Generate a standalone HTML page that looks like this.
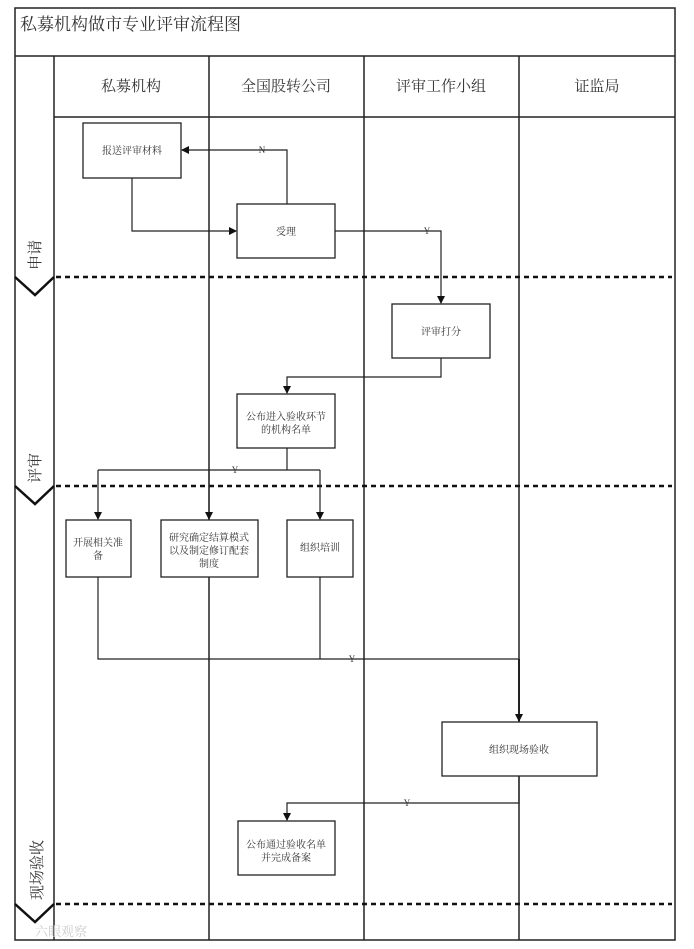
<!DOCTYPE html>
<html><head><meta charset="utf-8"><style>
body{margin:0;background:#fff;}
svg text{font-family:"Liberation Serif","Noto Serif CJK SC",serif;fill:#333;}
</style></head><body>
<svg width="694" height="944" viewBox="0 0 694 944" xmlns="http://www.w3.org/2000/svg">
<defs><marker id="a" markerWidth="8" markerHeight="8" refX="7" refY="4" orient="auto" markerUnits="userSpaceOnUse"><path d="M0,0 L8,4 L0,8 z" fill="#111"/></marker></defs>
<rect x="0" y="0" width="694" height="944" fill="#fff"/>
<g stroke="#222" stroke-width="1.5" fill="none">
<rect x="15" y="8" width="660" height="932"/>
<line x1="15" y1="56" x2="675" y2="56"/>
<line x1="54" y1="56" x2="54" y2="940"/>
<line x1="209" y1="56" x2="209" y2="940"/>
<line x1="364" y1="56" x2="364" y2="940"/>
<line x1="519" y1="56" x2="519" y2="940"/>
<line x1="54" y1="117" x2="675" y2="117"/>
</g>
<g stroke="#111" stroke-width="2.5" stroke-dasharray="5,4">
<line x1="56" y1="277" x2="672" y2="277"/>
<line x1="56" y1="486" x2="672" y2="486"/>
<line x1="56" y1="904" x2="672" y2="904"/>
</g>
<g stroke="#111" stroke-width="2.5" fill="none">
<polyline points="15,277 35,295 54,277"/>
<polyline points="15,486 35,504 54,486"/>
<polyline points="15,904 35,922 54,904"/>
</g>
<text x="20" y="30" font-size="17">私募机构做市专业评审流程图</text>
<g font-size="15" text-anchor="middle">
<text x="131" y="91">私募机构</text>
<text x="286" y="91">全国股转公司</text>
<text x="441" y="91">评审工作小组</text>
<text x="597" y="91">证监局</text>
</g>
<g font-size="15" text-anchor="middle">
<text transform="translate(40,255) rotate(-90)">申请</text>
<text transform="translate(40,468) rotate(-90)">评审</text>
<text transform="translate(42,870) rotate(-90)">现场验收</text>
</g>
<g stroke="#222" stroke-width="1.3" fill="#fff">
<rect x="83" y="123" width="98" height="55"/>
<rect x="237" y="204" width="98" height="54"/>
<rect x="392" y="304" width="98" height="54"/>
<rect x="237" y="394" width="98" height="54"/>
<rect x="66" y="520" width="65" height="57"/>
<rect x="161" y="520" width="97" height="57"/>
<rect x="287" y="520" width="66" height="57"/>
<rect x="442" y="722" width="155" height="54"/>
<rect x="238" y="821" width="97" height="54"/>
</g>
<g font-size="10" text-anchor="middle">
<text x="132" y="154">报送评审材料</text>
<text x="286" y="235">受理</text>
<text x="441" y="335">评审打分</text>
<text x="286" y="420">公布进入验收环节</text>
<text x="286" y="433">的机构名单</text>
<text x="98" y="546">开展相关准</text>
<text x="98" y="559">备</text>
<text x="209" y="541">研究确定结算模式</text>
<text x="209" y="554">以及制定修订配套</text>
<text x="209" y="567">制度</text>
<text x="320" y="551">组织培训</text>
<text x="519" y="753">组织现场验收</text>
<text x="286" y="848">公布通过验收名单</text>
<text x="286" y="861">并完成备案</text>
</g>
<g stroke="#222" stroke-width="1.2" fill="none">
<polyline points="287,204 287,150 182,150" marker-end="url(#a)"/>
<polyline points="132,178 132,231 236,231" marker-end="url(#a)"/>
<polyline points="335,231 441,231 441,303" marker-end="url(#a)"/>
<polyline points="441,358 441,377 287,377 287,393" marker-end="url(#a)"/>
<polyline points="287,448 287,470"/>
<polyline points="98,470 320,470"/>
<polyline points="98,470 98,519" marker-end="url(#a)"/>
<polyline points="209,470 209,519" marker-end="url(#a)"/>
<polyline points="320,470 320,519" marker-end="url(#a)"/>
<polyline points="98,577 98,659 519,659"/>
<polyline points="320,577 320,659"/>
<polyline points="519,659 519,721" stroke-width="2" marker-end="url(#a)"/>
<polyline points="519,776 519,803 287,803 287,820" marker-end="url(#a)"/>
</g>
<g font-size="9" text-anchor="middle">
<text x="262" y="153">N</text>
<text x="427" y="234">Y</text>
<text x="235" y="473">Y</text>
<text x="352" y="662">Y</text>
<text x="407" y="806">Y</text>
</g>
<text x="35" y="936" font-size="13" fill="#ccc" style="fill:#ccc">六眼观察</text>
</svg>
</body></html>
